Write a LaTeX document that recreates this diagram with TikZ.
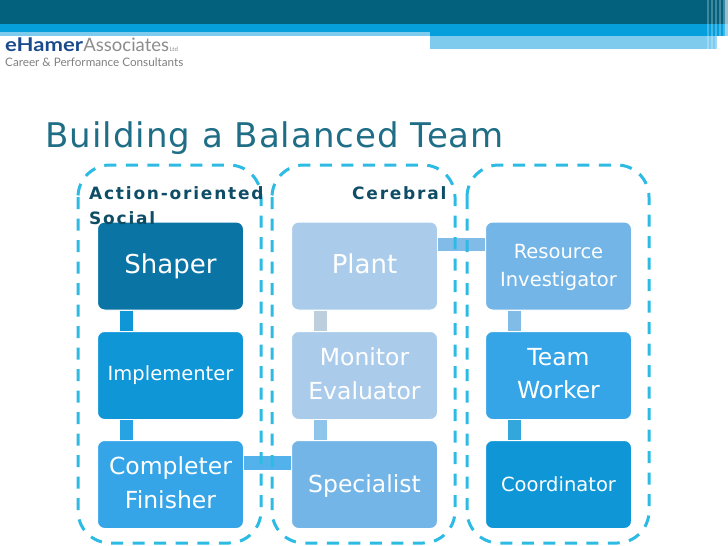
\documentclass[tikz,border=0pt]{standalone}
\usepackage{fontspec}
\setmainfont{DejaVu Sans}
\newfontfamily\headfont[LetterSpace=3]{DejaVu Sans}
\newfontfamily\groupfont[LetterSpace=10.5]{DejaVu Sans}
\newfontfamily\logofont{Lato}
\newfontfamily\logowide[FakeStretch=1.16]{Lato}
\newcommand{\lowpad}[1]{\rule[-#1]{0pt}{#1}}
\newcommand{\highpad}[1]{\rule{0pt}{#1}}
\definecolor{topbar}{HTML}{03617D}
\definecolor{midbar}{HTML}{069FDB}
\definecolor{lowbar}{HTML}{7ECBEE}
\definecolor{headcol}{HTML}{1F6E86}
\definecolor{groupcol}{HTML}{0F4D66}
\definecolor{framecol}{HTML}{2DBBE3}
\definecolor{logocol}{HTML}{1A4A8A}
\definecolor{boxa}{HTML}{0A74A5}
\definecolor{boxb}{HTML}{0F96D6}
\definecolor{boxc}{HTML}{35A5E8}
\definecolor{boxd}{HTML}{AACCEA}
\definecolor{boxe}{HTML}{73B5E6}
\tikzset{
  rolebox/.style={draw=white,line width=1pt,rounded corners=7pt,minimum width=146pt,
    minimum height=88pt,inner sep=0pt,align=center,text=white,font=\fontsize{23.5}{33.5}\selectfont},
  bigrole/.style={rolebox,font=\fontsize{26}{33}\selectfont},
  smallrole/.style={rolebox,font=\fontsize{19.5}{28}\selectfont},
  link/.style={line width=13pt},
  groupframe/.style={framecol,line width=3pt,dash pattern=on 12pt off 9.5pt,rounded corners=32pt},
  grouplabel/.style={anchor=base west,inner sep=0pt,text=groupcol,font=\groupfont\bfseries\fontsize{17}{17}\selectfont},
}
\begin{document}
\begin{tikzpicture}[x=1pt,y=-1pt]
\useasboundingbox (0,0) rectangle (728,546);
% header bars
\fill[topbar] (0,0) rectangle (728,24);
\fill[midbar] (0,24) rectangle (728,36);
\fill[lowbar] (0,32) rectangle (430,36);
\fill[lowbar] (430,36) rectangle (717,49);
\foreach \k in {707,711,715,719,723}
  \fill[white,opacity=0.25] (\k,0) rectangle (\k+2,49);
\fill[white,opacity=0.6] (725,0) rectangle (728,49);

% logo
\node[anchor=base west,inner sep=0pt,text=logocol] (logoa) at (5,51)
  {\logowide\fontsize{19}{19}\selectfont\bfseries eHamer};
\node[anchor=base west,inner sep=0pt,text=black!45] (logob) at (logoa.base east)
  {\logofont\fontsize{18.5}{18.5}\selectfont Associates};
\node[anchor=base west,inner sep=0pt,text=black!45] (logoc) at (logob.base east)
  {\logofont\fontsize{6}{6}\selectfont Ltd};
\node[anchor=base west,inner sep=0pt,text=black!50] (logod) at (5,66.5)
  {\logofont\fontsize{11.7}{11.7}\selectfont Career \& Performance Consultants};

% title
\node[anchor=base west,inner sep=0pt,text=headcol] (title) at (45,147)
  {\headfont\fontsize{34}{34}\selectfont Building a Balanced Team};

% boxes
\node[bigrole,fill=boxa] (shaper) at (170.5,266) {Shaper};
\node[smallrole,fill=boxb] (implementer) at (170.5,375.5) {Implementer};
\node[rolebox,fill=boxc] (completer) at (170.5,484.5) {Completer\\Finisher\lowpad{4pt}};
\node[bigrole,fill=boxd] (plant) at (364.5,266) {Plant\lowpad{5pt}};
\node[rolebox,fill=boxd] (monitor) at (364.5,375.5) {Monitor\\Evaluator\lowpad{4pt}};
\node[rolebox,fill=boxe] (specialist) at (364.5,484.5) {\highpad{21pt}Specialist};
\node[smallrole,fill=boxe] (resource) at (558.5,266) {\highpad{18pt}Resource\\Investigator};
\node[rolebox,fill=boxc] (team) at (558.5,375.5) {Team\\Worker\lowpad{4pt}};
\node[smallrole,fill=boxb] (coordinator) at (558.5,484.5) {Coordinator};

% links
\draw[link,color=boxb] ([xshift=29pt]shaper.south west) -- ([xshift=29pt]implementer.north west);
\draw[link,color=boxc!70!midbar] ([xshift=29pt]implementer.south west) -- ([xshift=29pt]completer.north west);
\draw[link,color=boxd!85!black!60!white] ([xshift=29pt]plant.south west) -- ([xshift=29pt]monitor.north west);
\draw[link,color=boxe!80!white] ([xshift=29pt]monitor.south west) -- ([xshift=29pt]specialist.north west);
\draw[link,color=boxe!90!white] ([xshift=29pt]resource.south west) -- ([xshift=29pt]team.north west);
\draw[link,color=boxb!85!white] ([xshift=29pt]team.south west) -- ([xshift=29pt]coordinator.north west);
\draw[link,color=boxc!85!white,line width=14pt] ([yshift=22pt]completer.east) -- ([yshift=22pt]specialist.west);
\draw[link,color=boxe!90!white] ([yshift=22pt]plant.east) -- ([yshift=22pt]resource.west);

% groups
\draw[groupframe] (78,165) rectangle (261,543);
\draw[groupframe] (272,165) rectangle (455,543);
\draw[groupframe] (467,165) rectangle (649,543);
\node[grouplabel] (action) at (89,199) {Action-oriented};
\node[grouplabel] (social) at (89,224) {Social};
\node[grouplabel] (cerebral) at (352,199) {Cerebral};
\end{tikzpicture}
\end{document}
